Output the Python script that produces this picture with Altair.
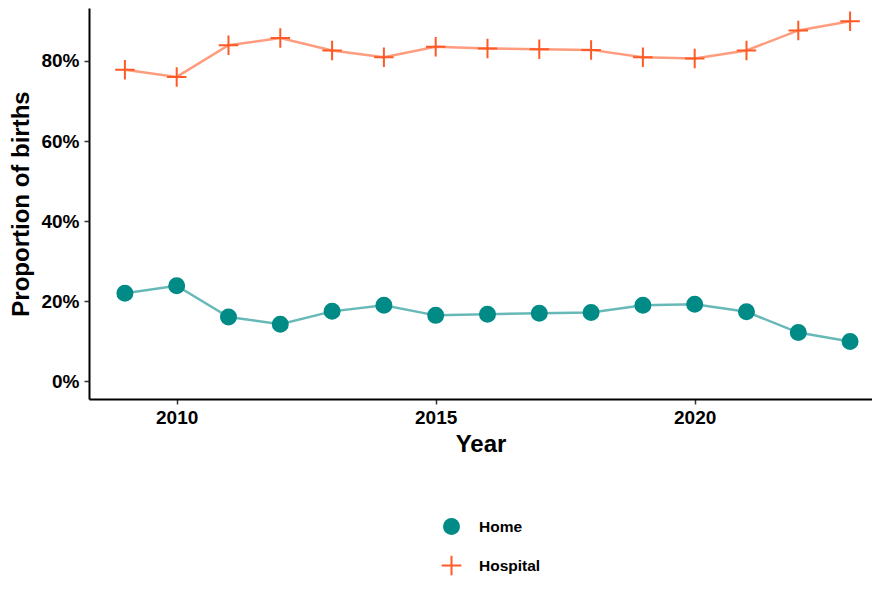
import altair as alt
import pandas as pd

years = list(range(2009, 2024))
home = [22.0, 23.9, 16.1, 14.3, 17.5, 19.0, 16.5, 16.8, 17.0, 17.2, 19.0, 19.3, 17.4, 12.2, 10.0]
hospital = [77.8, 76.0, 83.9, 85.7, 82.6, 80.9, 83.5, 83.1, 82.9, 82.75, 80.9, 80.6, 82.6, 87.6, 89.9]
series = ["Home", "Hospital"]
colors = ["#008B87", "#FF5A26"]
shapes = ["circle", "M-1.3,0H1.3M0,-1.3V1.3"]

rows = []
for y, h in zip(years, home):
    rows.append({"Year": y, "series": "Home", "value": h / 100})
for y, h in zip(years, hospital):
    rows.append({"Year": y, "series": "Hospital", "value": h / 100})
df = pd.DataFrame(rows)

FONT = "Liberation Sans"

x = alt.X("Year:Q", title="Year",
          scale=alt.Scale(domain=[2008.307, 2023.423], nice=False, zero=False),
          axis=alt.Axis(values=[2010, 2015, 2020], format="d"))
y = alt.Y("value:Q", title="Proportion of births",
          scale=alt.Scale(domain=[-0.0437, 0.932], nice=False, zero=False),
          axis=alt.Axis(values=[0, 0.2, 0.4, 0.6, 0.8], format=".0%"))
color = alt.Color("series:N", scale=alt.Scale(domain=series, range=colors),
                  legend=alt.Legend(title=None, orient="none", direction="vertical",
                                    legendX=354, legendY=510,
                                    labelFontSize=15.5, labelFontWeight="bold", labelFont=FONT,
                                    labelColor="black",
                                    symbolSize=225, symbolStrokeWidth=2, symbolOpacity=1,
                                    rowPadding=13, labelOffset=19))
shape = alt.Shape("series:N", scale=alt.Scale(domain=series, range=shapes), legend=alt.Legend(title=None))
stroke = alt.Stroke("series:N", scale=alt.Scale(domain=series, range=colors), legend=alt.Legend(title=None))

lines = alt.Chart(df).mark_line(strokeWidth=2.5, opacity=0.6).encode(x=x, y=y, color=color, detail="series:N")
points = alt.Chart(df).mark_point(filled=True, size=225, strokeWidth=2, opacity=1).encode(
    x=x, y=y, color=color, shape=shape, stroke=stroke)

chart = alt.layer(lines, points).properties(
    width=783, height=391,
    autosize=alt.AutoSizeParams(type="none"),
    padding={"left": 81, "top": 0, "right": 0, "bottom": 178},
).configure_view(stroke=None).configure_axis(
    grid=False, domainColor="black", domainWidth=2, tickColor="#333333", tickWidth=1.5, tickSize=5,
    labelFont=FONT, labelFontSize=19, labelFontWeight="bold", labelColor="black", labelPadding=5,
    titleFont=FONT, titleFontSize=24, titleFontWeight="bold", titleColor="black",
).configure_axisY(titlePadding=7).configure_axisX(titlePadding=5, labelPadding=4)

chart.save("out.html", embed_options={"renderer": "svg", "actions": False})
